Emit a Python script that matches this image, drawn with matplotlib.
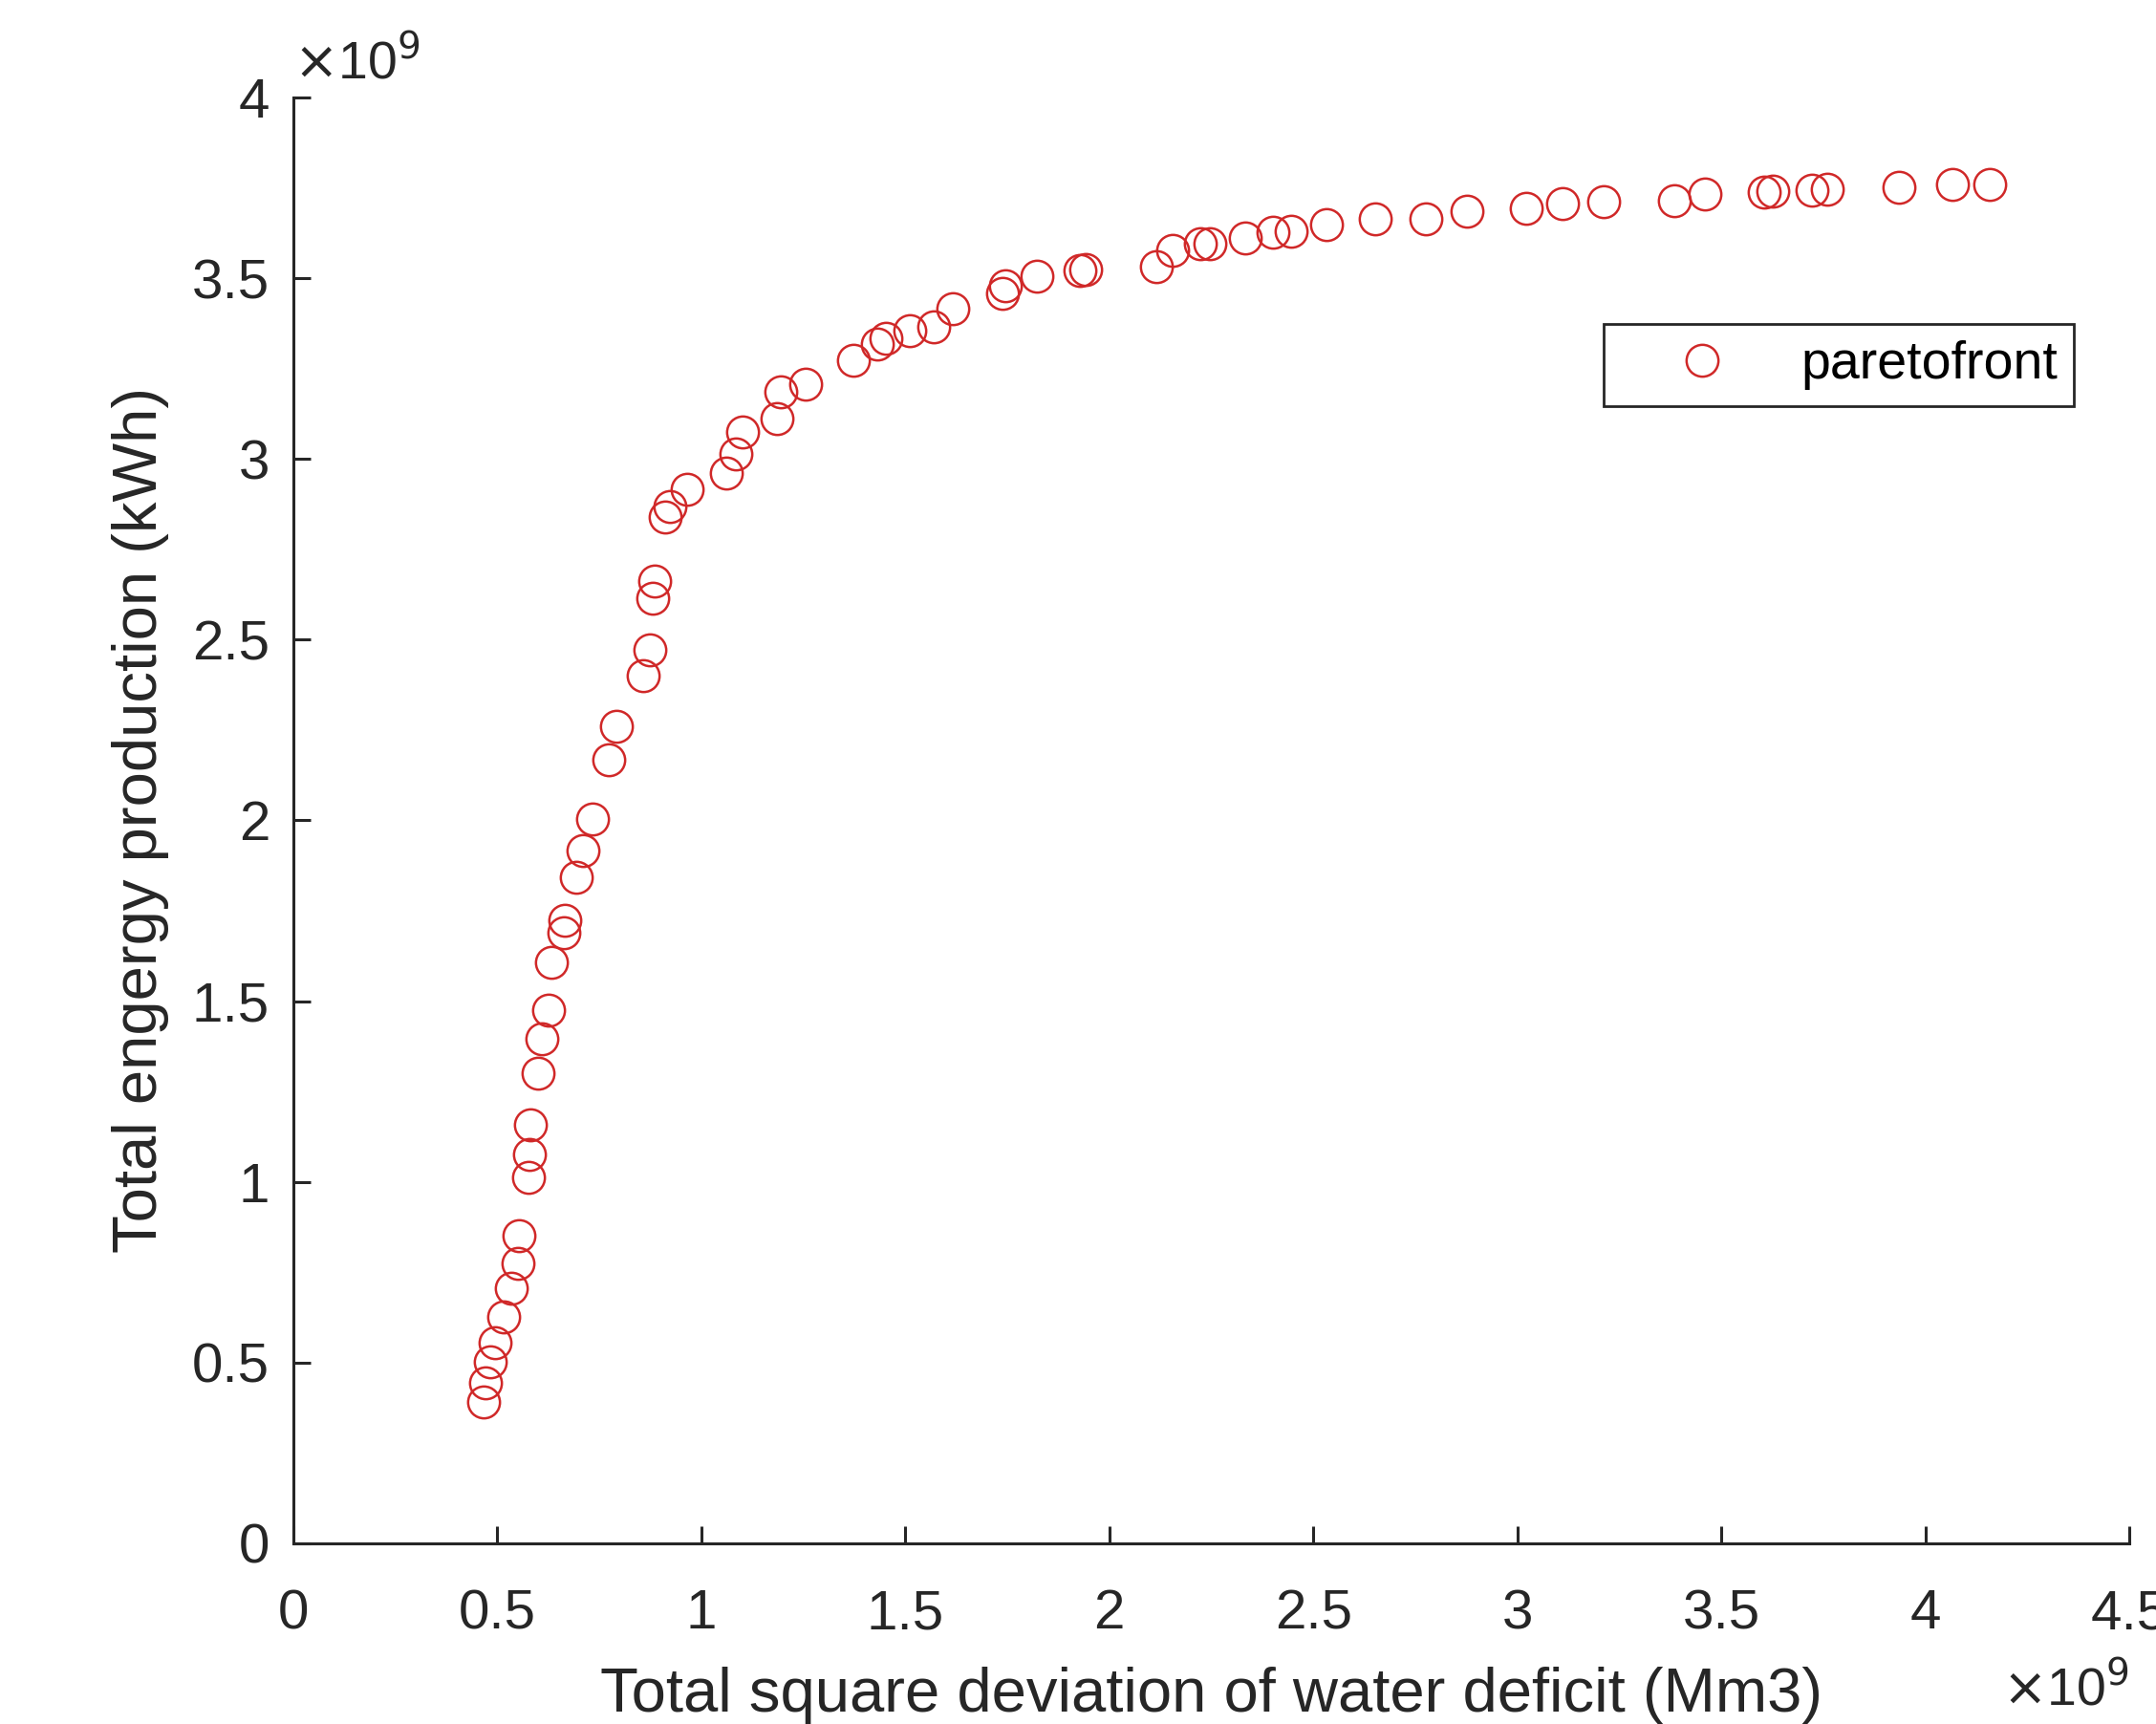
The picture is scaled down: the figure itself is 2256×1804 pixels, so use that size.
import numpy as np
import matplotlib
matplotlib.use("Agg")
import matplotlib.pyplot as plt
from matplotlib.ticker import FuncFormatter, MultipleLocator

plt.rcParams["font.family"] = ["Liberation Sans", "DejaVu Sans"]

# pareto front, both objectives in units of 1e9
deficit_e9 = [
    0.466, 0.471, 0.483, 0.494, 0.515, 0.534, 0.550, 0.553, 0.576, 0.579,
    0.581, 0.600, 0.608, 0.625, 0.632, 0.663, 0.665, 0.693, 0.710, 0.732,
    0.774, 0.792, 0.857, 0.874, 0.881, 0.885, 0.912, 0.922, 0.966, 1.061,
    1.085, 1.100, 1.186, 1.194, 1.256, 1.373, 1.432, 1.452, 1.510, 1.569,
    1.616, 1.737, 1.746, 1.823, 1.928, 1.942, 2.115, 2.156, 2.223, 2.247,
    2.334, 2.401, 2.445, 2.533, 2.651, 2.776, 2.877, 3.022, 3.110, 3.211,
    3.386, 3.460, 3.605, 3.627, 3.722, 3.760, 3.935, 4.066, 4.157,
]
energy_e9 = [
    0.391, 0.444, 0.502, 0.555, 0.627, 0.706, 0.775, 0.851, 1.013, 1.076,
    1.158, 1.300, 1.397, 1.476, 1.608, 1.688, 1.723, 1.842, 1.917, 2.005,
    2.168, 2.260, 2.401, 2.472, 2.615, 2.661, 2.840, 2.868, 2.917, 2.961,
    3.014, 3.075, 3.111, 3.186, 3.208, 3.274, 3.318, 3.334, 3.356, 3.366,
    3.415, 3.459, 3.480, 3.506, 3.521, 3.524, 3.531, 3.578, 3.594, 3.596,
    3.610, 3.627, 3.629, 3.647, 3.665, 3.665, 3.684, 3.692, 3.706, 3.712,
    3.714, 3.732, 3.738, 3.740, 3.744, 3.745, 3.752, 3.758, 3.759,
]

x = np.array(deficit_e9) * 1e9
y = np.array(energy_e9) * 1e9

TXT = "#262626"
RED = "#d02828"

fig = plt.figure(figsize=(22.56, 18.04), dpi=100)
ax = fig.add_axes([0.1361, 0.1048, 0.8515, 0.8387])

ax.plot(x, y, "o", ls="none", mfc="none", mec=RED, ms=24, mew=1.8,
        label="paretofront")

ax.set_xlim(0, 4.5e9)
ax.set_ylim(0, 4e9)
ax.xaxis.set_major_locator(MultipleLocator(0.5e9))
ax.yaxis.set_major_locator(MultipleLocator(0.5e9))
fmt = FuncFormatter(lambda v, p: f"{v / 1e9:g}")
ax.xaxis.set_major_formatter(fmt)
ax.yaxis.set_major_formatter(fmt)

for side in ("top", "right"):
    ax.spines[side].set_visible(False)
for side in ("left", "bottom"):
    ax.spines[side].set_linewidth(2.2)
    ax.spines[side].set_color(TXT)
ax.tick_params(direction="in", length=13, width=2.2, labelsize=42,
               colors=TXT)
ax.tick_params(axis="x", pad=34)
ax.tick_params(axis="y", pad=18)

ax.set_xlabel("Total square deviation of water deficit (Mm3)", fontsize=47,
              color=TXT, labelpad=20)
ax.set_ylabel("Total engergy production (kWh)", fontsize=47, color=TXT,
              labelpad=17)

# MATLAB style exponent labels
ax.text(0.0, 1.005, r"$\times$10$^{9}$", transform=ax.transAxes,
        fontsize=40, color=TXT, ha="left", va="bottom")
fig.text(0.9876, 0.004, r"$\times$10$^{9}$", fontsize=40, color=TXT,
         ha="right", va="bottom")

leg = ax.legend(loc="upper right", bbox_to_anchor=(0.970, 0.843),
                borderaxespad=0, fontsize=40, fancybox=False,
                edgecolor=TXT, framealpha=1, handletextpad=0.32,
                borderpad=0.3, handlelength=3.1)
leg.get_frame().set_linewidth(2.0)

fig.savefig("out.png", dpi=100)
